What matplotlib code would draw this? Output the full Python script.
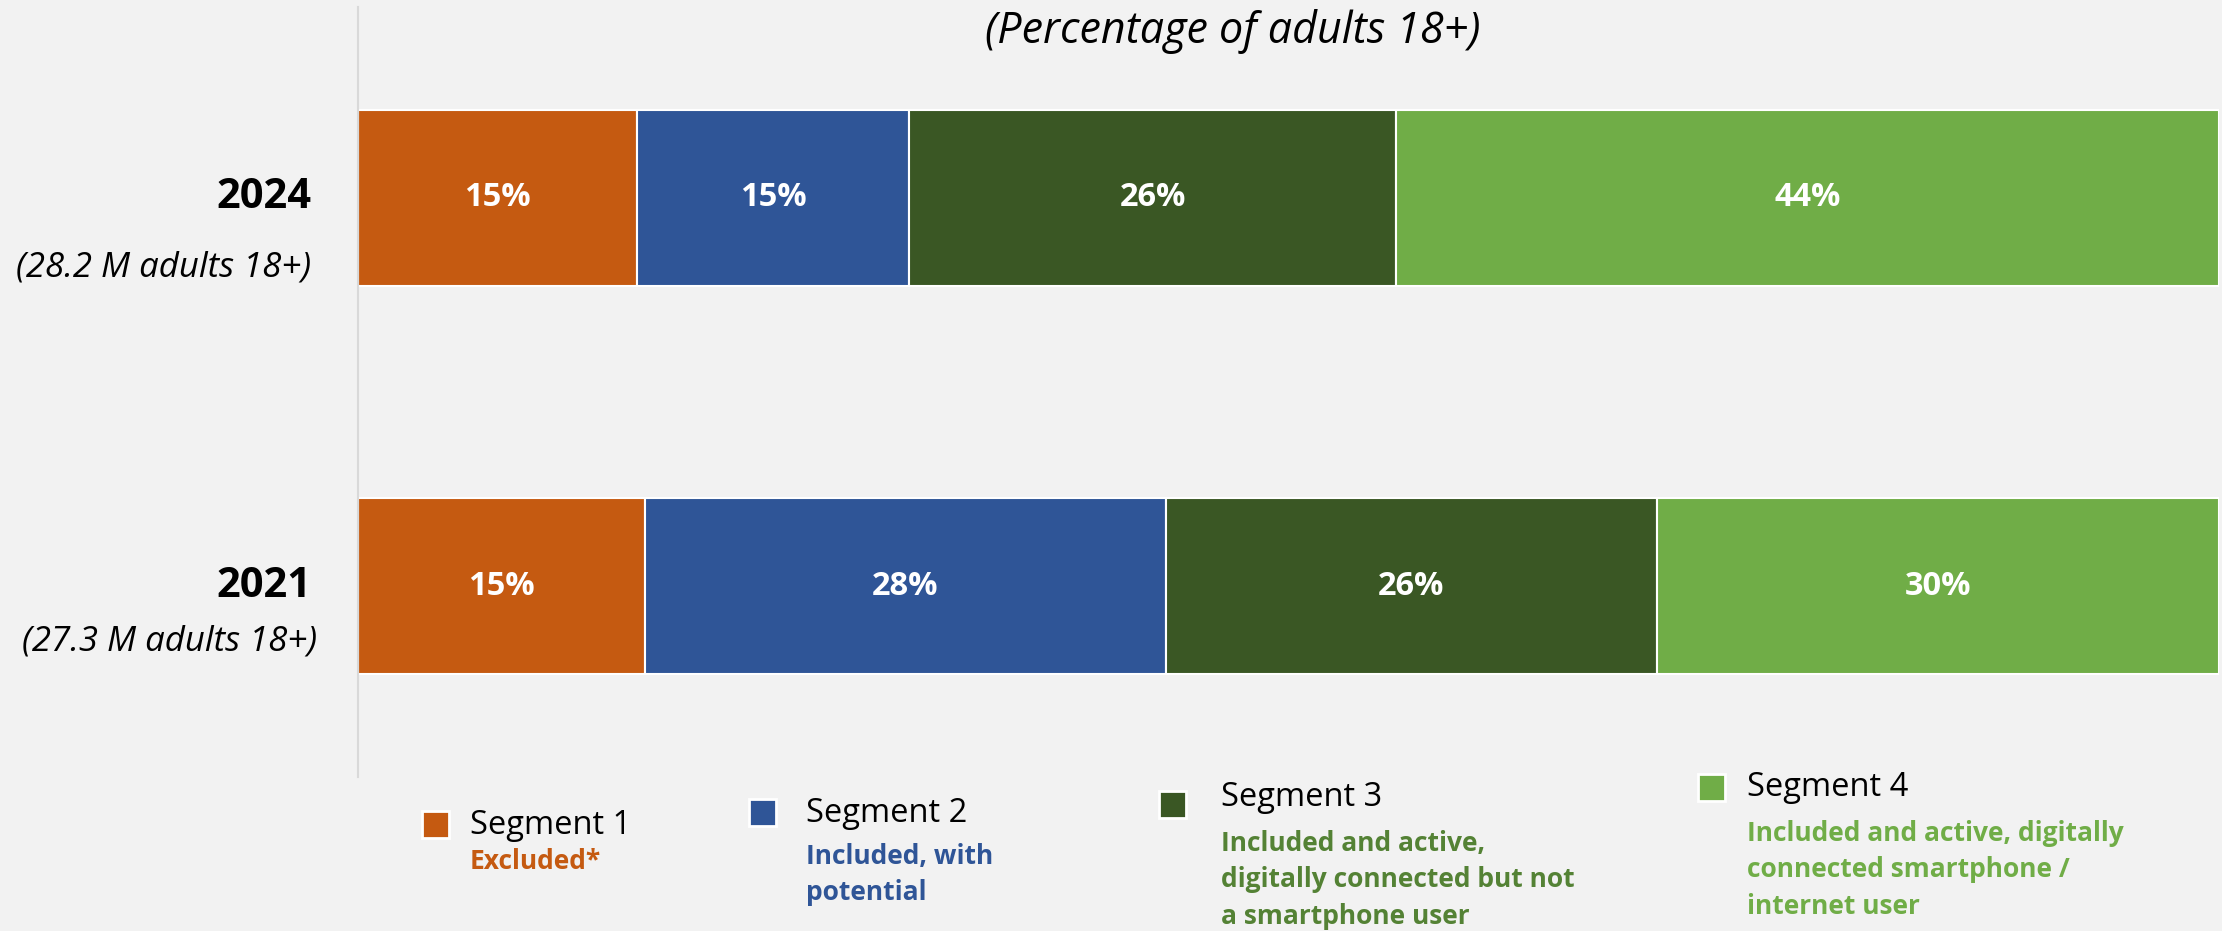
import matplotlib
matplotlib.use("Agg")

import matplotlib.pyplot as plt
from matplotlib.patches import Rectangle

plt.rcParams["font.family"] = ["Open Sans", "DejaVu Sans"]

# ── data ────────────────────────────────────────────────────────────
years = ["2021", "2024"]
year_notes = ["(27.3 M adults 18+)", "(28.2 M adults 18+)"]
segments = ["Segment 1", "Segment 2", "Segment 3", "Segment 4"]
segment_notes = [
    "Excluded*",
    "Included, with\npotential",
    "Included and active,\ndigitally connected but not\na smartphone user",
    "Included and active, digitally\nconnected smartphone /\ninternet user",
]
# share of adults per segment, one list per segment: [2021, 2024]
seg1 = [15.4, 15.0]
seg2 = [28.0, 14.6]
seg3 = [26.4, 26.2]
seg4 = [30.2, 44.2]

BAR_COLORS = ["#C55A11", "#2F5597", "#3A5724", "#70AD47"]
NOTE_COLORS = ["#C55A11", "#2F5597", "#548235", "#70AD47"]
BG = "#F2F2F2"

W, H = 2222, 931
fig = plt.figure(figsize=(W / 100, H / 100), dpi=100)
fig.patch.set_facecolor(BG)

ax = fig.add_axes([358 / W, 1 - 777 / H, 1861 / W, 770 / H])
ax.set_facecolor(BG)

ypos = list(range(len(years)))
left = [0.0] * len(years)
for vals, color in zip([seg1, seg2, seg3, seg4], BAR_COLORS):
    bars = ax.barh(ypos, vals, left=left, height=0.454, color=color,
                   edgecolor="white", linewidth=1.5)
    ax.bar_label(bars, labels=[f"{round(v)}%" for v in vals],
                 label_type="center", color="white", fontsize=23.5,
                 fontweight="bold")
    left = [l + v for l, v in zip(left, vals)]

ax.set_xlim(0, 100)
ax.set_ylim(-0.492, 1.492)
ax.set_xticks([])
ax.set_yticks([])
for side in ["top", "right", "bottom"]:
    ax.spines[side].set_visible(False)
ax.spines["left"].set_color("#D9D9D9")
ax.spines["left"].set_linewidth(1.5)

# year labels on the left
ytr = ax.get_yaxis_transform()
note_offsets = [0.144, 0.178]
note_x = [-0.022, -0.025]
for y, yr, note, off, nx in zip(ypos, years, year_notes, note_offsets, note_x):
    ax.text(-0.025, y, yr, transform=ytr, ha="right", va="center",
            fontsize=30, fontweight="bold", color="black")
    ax.text(nx, y - off, note, transform=ytr, ha="right", va="center",
            fontsize=25, fontstyle="italic", color="black")

fig.text(1233 / W, 1 - 31 / H, "(Percentage of adults 18+)", ha="center",
         va="center", fontsize=31, fontstyle="italic", color="black")

# ── legend ──────────────────────────────────────────────────────────
# (square left, square top, text x, title y, first note y) in pixels
legend_pos = [
    (422, 811, 470, 825, 862),
    (749, 799, 806, 813, 857),
    (1159, 791, 1221, 798, 844),
    (1698, 774, 1747, 788, 834),
]
sq = 27
for (sx, sy, tx, ty, ny), name, note, bc, nc in zip(
        legend_pos, segments, segment_notes, BAR_COLORS, NOTE_COLORS):
    fig.add_artist(Rectangle((sx / W, 1 - (sy + sq) / H), sq / W, sq / H,
                             transform=fig.transFigure, facecolor=bc,
                             edgecolor="white", linewidth=2))
    fig.text(tx / W, 1 - ty / H, name, ha="left", va="center",
             fontsize=23.5, color="black")
    fig.text(tx / W, 1 - (ny - 14) / H, note, ha="left", va="top",
             fontsize=19, fontweight="bold", color=nc, linespacing=1.45)

fig.savefig("out.png", dpi=100, facecolor=BG)
